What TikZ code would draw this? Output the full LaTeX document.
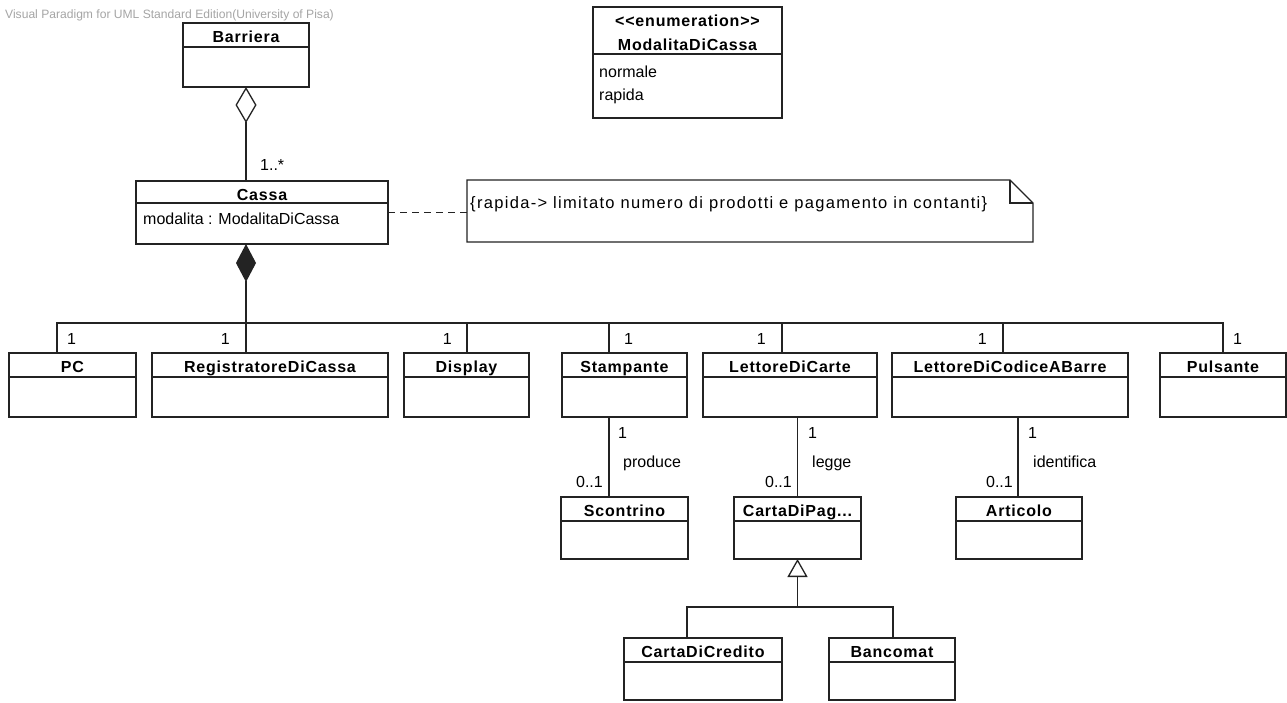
\documentclass[tikz,border=0pt]{standalone}
\usepackage{fontspec}
\setmainfont{Liberation Sans}
\usetikzlibrary{arrows.meta,calc}
\definecolor{ln}{RGB}{35,35,35}
\definecolor{wmc}{RGB}{165,165,165}
\tikzset{
  clsbox/.style={draw=ln, line width=1.3pt, inner sep=0pt, outer sep=0pt, anchor=north west},
  ttl/.style={font=\fontsize{16}{18}\selectfont\addfontfeature{LetterSpace=5}\bfseries, inner sep=0pt, anchor=base},
  txt/.style={font=\fontsize{16}{18}\selectfont, inner sep=0pt},
  notetxt/.style={font=\fontsize{16.5}{18}\selectfont\addfontfeature{LetterSpace=8}, inner sep=0pt},
  conn/.style={draw=ln, line width=1.3pt},
  wmk/.style={font=\fontsize{12.1}{13}\selectfont, text=wmc, inner sep=0pt},
}
\newcommand\umlcls[7][24]{%
  \node[clsbox, minimum width={(#5-#3)*1pt}, minimum height={(#6-#4)*1pt}] (#2) at (#3,#4) {};
  \draw[conn] (#3,#4+#1) -- (#5,#4+#1);
  \node[ttl] (#2-name) at ({(#3+#5)/2},#4+19) {#7};
}
\begin{document}
\begin{tikzpicture}[x=1pt,y=-1pt]
\fill[white] (0,0) rectangle (1287,702);
\useasboundingbox (0,0) rectangle (1287,702);

\node[wmk, anchor=base west] (wm) at (5,18) {Visual Paradigm for UML Standard Edition(University of Pisa)};

% classes
\umlcls{barriera}{183}{23}{309}{87}{Barriera}
\umlcls[22]{cassa}{136}{181}{388}{244}{Cassa}
\node[txt, anchor=base west] (cassa-attr) at (143,224) {modalita : ModalitaDiCassa};

% enumeration
\node[clsbox, minimum width=189pt, minimum height=111pt] (enum) at (593,7) {};
\draw[conn] (593,54) -- (782,54);
\node[ttl] (enum-st) at (687.5,26) {<{}<enumeration>{}>};
\node[ttl] (enum-name) at (687.5,50) {ModalitaDiCassa};
\node[txt, anchor=base west] (enum-v1) at (599,77) {normale};
\node[txt, anchor=base west] (enum-v2) at (599,100) {rapida};

\umlcls{pc}{9}{353}{136}{417}{PC}
\umlcls{reg}{152}{353}{388}{417}{RegistratoreDiCassa}
\umlcls{disp}{404}{353}{529}{417}{Display}
\umlcls{stamp}{562}{353}{687}{417}{Stampante}
\umlcls{ldc}{703}{353}{877}{417}{LettoreDiCarte}
\umlcls{ldcab}{892}{353}{1128}{417}{LettoreDiCodiceABarre}
\umlcls{puls}{1160}{353}{1286}{417}{Pulsante}
\umlcls{scon}{561}{497}{688}{559}{Scontrino}
\umlcls{cdp}{734}{497}{861}{559}{CartaDiPag...}
\umlcls{art}{956}{497}{1082}{559}{Articolo}
\umlcls{cdc}{624}{638}{782}{700}{CartaDiCredito}
\umlcls{banc}{829}{638}{955}{700}{Bancomat}

% note
\node[inner sep=0pt, outer sep=0pt, minimum width=566pt, minimum height=62pt, anchor=north west] (note) at (467,180) {};
\draw[conn, fill=white] (note.north west) -- ([xshift=-23pt]note.north east) -- ([yshift=-23pt]note.north east) -- (note.south east) -- (note.south west) -- cycle;
\draw[conn] ([xshift=-23pt]note.north east) -- ([xshift=-23pt,yshift=-23pt]note.north east) -- ([yshift=-23pt]note.north east);
\node[notetxt, anchor=base west] (note-text) at (470,208) {\{rapida-> limitato numero di prodotti e pagamento in contanti\}};
\draw[conn, dash pattern=on 7pt off 5pt] (cassa.east) -- (cassa.east -| note.west);

% aggregation Barriera - Cassa
\draw[conn, {Diamond[open, fill=white, length=36pt, width=21pt]}-] (barriera.south) -- (barriera.south |- cassa.north);
\node[txt, anchor=base west] (m-cassa) at (260,170) {1..*};

% composition Cassa - parts
\coordinate (bus) at (246,323);
\coordinate (pcT) at ([xshift=48pt]pc.north west);
\coordinate (dispT) at ([xshift=63pt]disp.north west);
\coordinate (stampT) at ([xshift=47pt]stamp.north west);
\coordinate (ldcT) at ([xshift=79pt]ldc.north west);
\coordinate (ldcabT) at ([xshift=111pt]ldcab.north west);
\coordinate (pulsT) at ([xshift=63pt]puls.north west);
\draw[conn, {Diamond[length=38pt, width=20pt]}-] ([xshift=-16pt]cassa.south) -- ([xshift=-24pt]reg.north);
\draw[conn] (pcT) -- (pcT |- bus) -- (pulsT |- bus) -- (pulsT);
\draw[conn] (dispT) -- (dispT |- bus);
\draw[conn] (stampT) -- (stampT |- bus);
\draw[conn] (ldcT) -- (ldcT |- bus);
\draw[conn] (ldcabT) -- (ldcabT |- bus);
\node[txt, anchor=base west] (m-pc) at (67,344) {1};
\node[txt, anchor=base east] (m-reg) at (230,344) {1};
\node[txt, anchor=base east] (m-disp) at (452,344) {1};
\node[txt, anchor=base west] (m-stamp) at (624,344) {1};
\node[txt, anchor=base east] (m-ldc) at (766,344) {1};
\node[txt, anchor=base east] (m-ldcab) at (987,344) {1};
\node[txt, anchor=base west] (m-puls) at (1233,344) {1};

% associations
\draw[conn] ([xshift=47pt]stamp.south west) -- ([xshift=47pt]stamp.south west |- scon.north);
\node[txt, anchor=base west] (a1-m1) at (618,438) {1};
\node[txt, anchor=base west] (a1-n) at (623,467) {produce};
\node[txt, anchor=base east] (a1-m2) at (603,487) {0..1};

\draw[conn] (cdp.north) -- (cdp.north |- ldc.south);
\node[txt, anchor=base west] (a2-m1) at (808,438) {1};
\node[txt, anchor=base west] (a2-n) at (812,467) {legge};
\node[txt, anchor=base east] (a2-m2) at (792,487) {0..1};

\draw[conn] ([xshift=126pt]ldcab.south west) -- ([xshift=126pt]ldcab.south west |- art.north);
\node[txt, anchor=base west] (a3-m1) at (1028,438) {1};
\node[txt, anchor=base west] (a3-n) at (1033,467) {identifica};
\node[txt, anchor=base east] (a3-m2) at (1013,487) {0..1};

% generalization
\coordinate (gen) at (797.5,607);
\coordinate (cdcT) at ([xshift=63pt]cdc.north west);
\coordinate (bancT) at ([xshift=64pt]banc.north west);
\draw[conn] (cdcT) -- (cdcT |- gen) -- (bancT |- gen) -- (bancT);
\draw[conn, -{Triangle[open, fill=white, length=18pt, width=20pt]}] (gen) -- (cdp.south);
\end{tikzpicture}
\end{document}
